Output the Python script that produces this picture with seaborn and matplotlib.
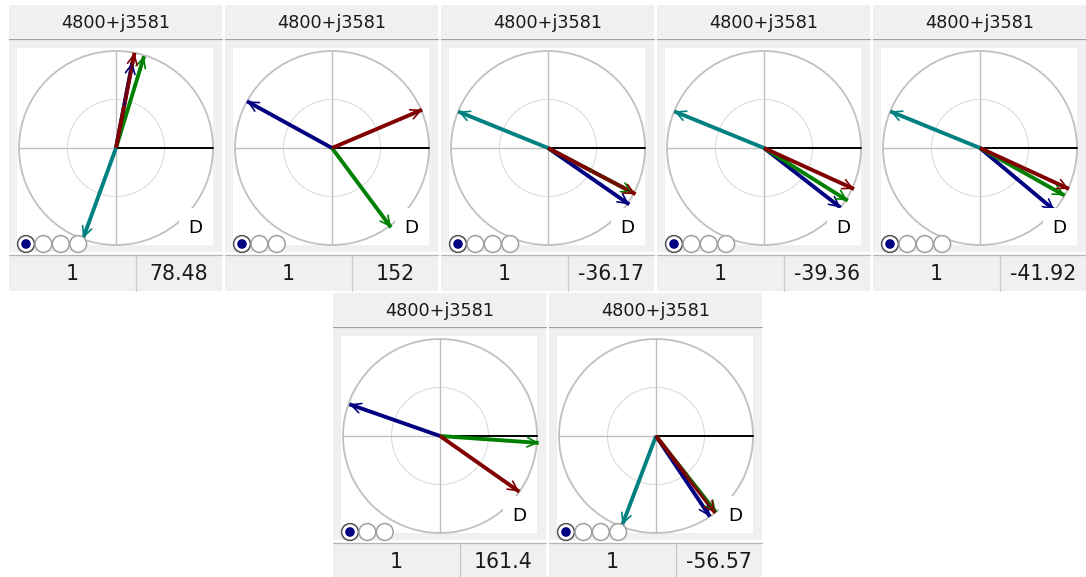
import numpy as np
import pandas as pd
import matplotlib
matplotlib.use("Agg")
import matplotlib.pyplot as plt
from matplotlib.patches import Rectangle, Circle
import seaborn as sns

# panel data (angles in degrees, magnitudes relative to outer circle)
header_labels = ["4800+j3581"] * 7
footer_left = ["1"] * 7
footer_values = ["78.48", "152", "-36.17", "-39.36", "-41.92", "161.4", "-56.57"]
n_buttons = [4, 3, 4, 4, 4, 3, 4]

navy_angle = [79.2, 151.2, -34.8, -37.9, -39.9, 160.7, -56.2]
navy_mag = [0.9, 1.0, 1.02, 1.0, 1.0, 0.99, 1.0]
green_angle = [73, -53.4, -27.8, -32.2, -29.3, -4, -51.8]
green_mag = [0.99, 1.02, 0.99, 1.02, 1.0, 1.02, 1.0]
red_angle = [79, 23, -27.8, -24.5, -24.7, -35.1, -52.4]
red_mag = [1.0, 1.01, 1.02, 1.02, 1.01, 1.0, 1.0]
teal_angle = [-110, np.nan, 157.9, 157.8, 157.8, np.nan, -110.8]
teal_mag = [0.99, np.nan, 1.0, 1.0, 1.0, np.nan, 0.98]

series = {
    "teal": (teal_angle, teal_mag),
    "navy": (navy_angle, navy_mag),
    "green": (green_angle, green_mag),
    "red": (red_angle, red_mag),
}
palette = {"teal": "#008080", "navy": "#000080", "green": "#008000", "red": "#800000"}
draw_order = ["teal", "navy", "green", "red"]

sns.set_style("white")
plt.rcParams["font.family"] = ["DejaVu Sans"]

W, H = 1086, 577
fig = plt.figure(figsize=(W / 100, H / 100), dpi=100)


def px_axes(x, y, w, h, z=0):
    return fig.add_axes([x / W, 1 - (y + h) / H, w / W, h / H], zorder=z)


bg = px_axes(0, 0, W, H, 0)
bg.set_xlim(0, W)
bg.set_ylim(H, 0)
bg.axis("off")

top = px_axes(0, 0, W, H, 5)
top.set_xlim(0, W)
top.set_ylim(H, 0)
top.axis("off")

panel_x = [9, 225, 441, 657, 873, 333, 549]
panel_y = [5, 5, 5, 5, 5, 293, 293]
pw = 213
grey = "#f0f0f0"
R = 97.0  # circle radius in px
cx, cy = 107, 143  # circle centre inside panel

for i in range(7):
    x0, y0 = panel_x[i], panel_y[i]

    # header
    bg.add_patch(Rectangle((x0, y0), pw, 33, fc=grey, ec="none"))
    bg.plot([x0, x0 + pw], [y0 + 33.5, y0 + 33.5], color="#a0a0a0", lw=0.9)
    bg.text(x0 + pw / 2, y0 + 18, header_labels[i], ha="center", va="center",
            fontsize=12.7, color="#1a1a1a")

    # body
    bg.add_patch(Rectangle((x0, y0 + 35), pw, 212, fc=grey, ec="none"))
    bg.add_patch(Rectangle((x0 + 8, y0 + 43), 196, 197, fc="white", ec="none"))

    # footer
    bg.add_patch(Rectangle((x0, y0 + 250), pw, 36, fc=grey, ec="none"))
    bg.plot([x0, x0 + pw], [y0 + 249.5, y0 + 249.5], color="#b4b4b4", lw=0.9)
    bg.plot([x0 + 127, x0 + 127], [y0 + 250, y0 + 286], color="#c8c8c8", lw=0.9)
    bg.text(x0 + 63, y0 + 269, footer_left[i], ha="center", va="center",
            fontsize=14.8, color="#1a1a1a")
    bg.text(x0 + 170, y0 + 269, footer_values[i], ha="center", va="center",
            fontsize=14.8, color="#1a1a1a")

    # phasor plot
    ax = px_axes(x0 + 8, y0 + 43, 196, 197, 2)
    ax.set_xlim(-(cx - 8) / R, (204 - cx) / R)
    ax.set_ylim(-(240 - cy) / R, (cy - 43) / R)
    ax.axis("off")

    ax.add_patch(Circle((0, 0), 1.0, fill=False, ec="#c0c0c0", lw=1.3, clip_on=False, zorder=1))
    ax.add_patch(Circle((0, 0), 0.5, fill=False, ec="#dcdcdc", lw=0.8, zorder=1))
    ax.plot([-1, 0], [0, 0], color="#c0c0c0", lw=1.0, zorder=1)
    ax.plot([0, 0], [-1, 1], color="#c0c0c0", lw=1.0, zorder=1)
    ax.plot([0, 1], [0, 0], color="black", lw=1.4, zorder=1.5, clip_on=False)

    rows = []
    for name in draw_order:
        ang, mag = series[name]
        if np.isnan(ang[i]):
            continue
        a = np.deg2rad(ang[i])
        tx, ty = mag[i] * np.cos(a), mag[i] * np.sin(a)
        rows.append({"series": name, "x": 0.0, "y": 0.0})
        rows.append({"series": name, "x": tx, "y": ty})
    df = pd.DataFrame(rows)
    present = [s for s in draw_order if s in set(df["series"])]
    sns.lineplot(data=df, x="x", y="y", hue="series", units="series",
                 estimator=None, sort=False, hue_order=present, palette=palette,
                 legend=False, ax=ax, zorder=2)
    for line in ax.lines[-len(present):]:
        line.set_clip_on(False)
        line.set_linewidth(2.8)
        line.set_solid_capstyle("butt")
    for name in present:
        d = df[df["series"] == name]
        tx, ty = d["x"].iloc[1], d["y"].iloc[1]
        ax.annotate("", xy=(tx, ty), xytext=(0.5 * tx, 0.5 * ty),
                    arrowprops=dict(arrowstyle="->,head_length=0.7,head_width=0.35",
                                    color=palette[name], lw=1.2, shrinkA=0, shrinkB=0),
                    annotation_clip=False, zorder=2.5)
    ax.set_xlabel("")
    ax.set_ylabel("")

    # white box behind the D label
    ax.add_patch(Rectangle((0.65, -1.05), 0.45, 0.43, fc="white", ec="none", zorder=3))
    top.text(x0 + 186, y0 + 223, "D", ha="center", va="center", fontsize=13.2, color="black")

    # radio buttons
    for k in range(n_buttons[i]):
        bx, by = x0 + 17 + 17.4 * k, y0 + 239
        if k == 0:
            top.add_patch(Circle((bx, by), 8.4, fc="white", ec="#505050", lw=1.1))
            top.add_patch(Circle((bx, by), 4.8, fc="#000080", ec="none"))
        else:
            top.add_patch(Circle((bx, by), 8.4, fc="white", ec="#a0a0a0", lw=1.1))

fig.savefig("out.png", dpi=100)
